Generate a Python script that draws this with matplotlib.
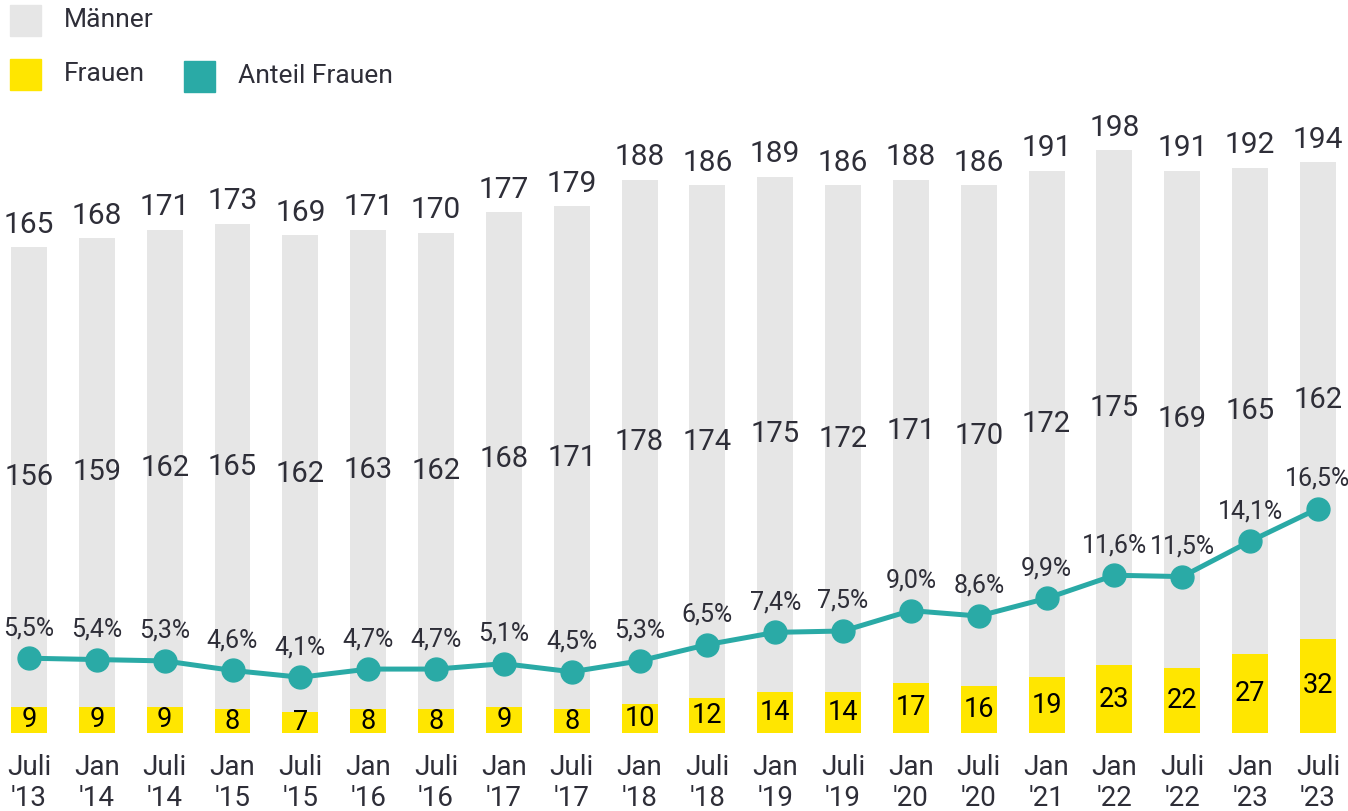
import numpy as np
import matplotlib.pyplot as plt
from matplotlib.patches import Rectangle

# Data
labels = ["Juli\n'13", "Jan\n'14", "Juli\n'14", "Jan\n'15", "Juli\n'15", "Jan\n'16", "Juli\n'16",
          "Jan\n'17", "Juli\n'17", "Jan\n'18", "Juli\n'18", "Jan\n'19", "Juli\n'19", "Jan\n'20",
          "Juli\n'20", "Jan\n'21", "Jan\n'22", "Juli\n'22", "Jan\n'23", "Juli\n'23"]
maenner = [156, 159, 162, 165, 162, 163, 162, 168, 171, 178, 174, 175, 172, 171, 170, 172, 175, 169, 165, 162]
frauen = [9, 9, 9, 8, 7, 8, 8, 9, 8, 10, 12, 14, 14, 17, 16, 19, 23, 22, 27, 32]
gesamt = [165, 168, 171, 173, 169, 171, 170, 177, 179, 188, 186, 189, 186, 188, 186, 191, 198, 191, 192, 194]
anteil = [5.5, 5.4, 5.3, 4.6, 4.1, 4.7, 4.7, 5.1, 4.5, 5.3, 6.5, 7.4, 7.5, 9.0, 8.6, 9.9, 11.6, 11.5, 14.1, 16.5]

grey = '#e6e6e6'
yellow = '#ffe600'
teal = '#2aaaa6'
txt = '#2e2e38'

plt.rcParams['font.family'] = ['Roboto', 'DejaVu Sans']

fig = plt.figure(figsize=(13.48, 8.11), dpi=100)
W, H = 1348, 811
ax = fig.add_axes([0, 78 / H, 1, 623 / H])
x = np.arange(len(labels))

ax.bar(x, frauen, width=0.53, color=yellow, zorder=2)
ax.bar(x, maenner, bottom=frauen, width=0.53, color=grey, zorder=2)

for i in range(len(x)):
    ax.text(x[i], frauen[i] / 2, str(frauen[i]), ha='center', va='center', fontsize=19.5, color='black', zorder=5)
    ax.text(x[i], frauen[i] + maenner[i] / 2, str(maenner[i]), ha='center', va='center', fontsize=21, color=txt, zorder=5)
    ax.annotate(str(gesamt[i]), (x[i], gesamt[i]), xytext=(0, 6), textcoords='offset points',
                ha='center', va='bottom', fontsize=21.5, color=txt)

ax.set_xlim(-29 / 67.84, -29 / 67.84 + W / 67.84)
ax.set_ylim(0, 623 / 2.944)
ax.set_xticks(x)
ax.set_xticklabels(labels, fontsize=20, color=txt, linespacing=1.2)
ax.tick_params(axis='x', length=0, pad=15)
ax.set_yticks([])
for s in ax.spines.values():
    s.set_visible(False)

ax2 = ax.twinx()
ax2.plot(x, anteil, color=teal, lw=3.6, marker='o', markersize=16.5, zorder=4)
for i in range(len(x)):
    ax2.annotate(f"{anteil[i]:.1f}%".replace('.', ','), (x[i], anteil[i]), xytext=(0, 13),
                 textcoords='offset points', ha='center', va='bottom', fontsize=18, color=txt)
ax2.set_ylim(0, 623 / 13.6)
ax2.set_yticks([])
for s in ax2.spines.values():
    s.set_visible(False)

# legend
fig.patches.append(Rectangle((10 / W, 1 - 36 / H), 31 / W, 31 / H, transform=fig.transFigure, color=grey, figure=fig))
fig.patches.append(Rectangle((10 / W, 1 - 90 / H), 31 / W, 31 / H, transform=fig.transFigure, color=yellow, figure=fig))
fig.patches.append(Rectangle((184 / W, 1 - 92 / H), 31 / W, 31 / H, transform=fig.transFigure, color=teal, figure=fig))
fig.text(64 / W, 1 - 20 / H, 'Männer', fontsize=19, color=txt, va='center')
fig.text(64 / W, 1 - 74 / H, 'Frauen', fontsize=19, color=txt, va='center')
fig.text(238 / W, 1 - 76 / H, 'Anteil Frauen', fontsize=19, color=txt, va='center')

fig.savefig('out.png', dpi=100)
